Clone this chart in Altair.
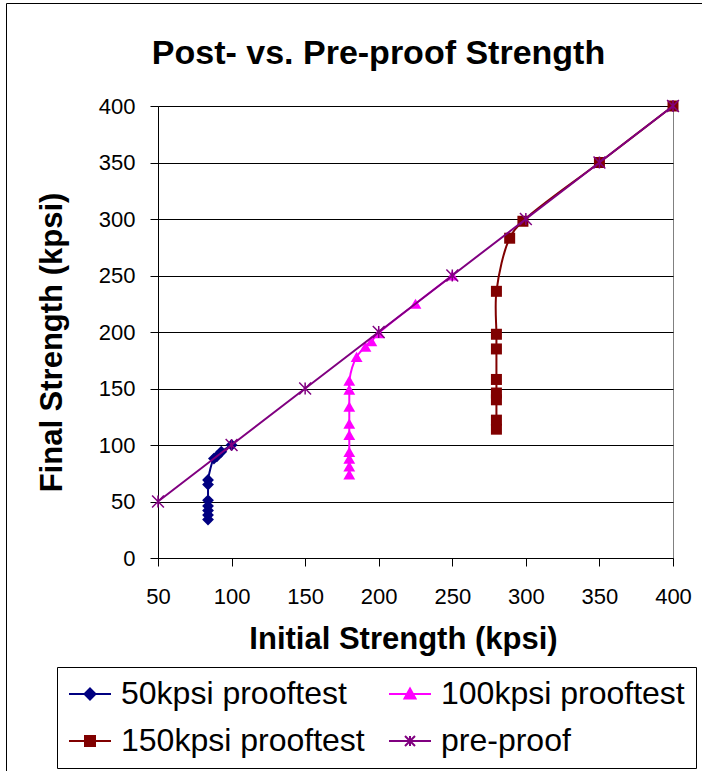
import altair as alt
import pandas as pd

series_names = ["50kpsi prooftest", "100kpsi prooftest", "150kpsi prooftest", "pre-proof"]
series_colors = ["#000080", "#FF00FF", "#800000", "#800080"]

s50_x = [84, 84, 84, 84, 84, 84, 84, 88, 90, 93, 100]
s50_y = [34, 38, 42, 46, 51, 65, 69, 88, 90, 94, 100]

s100_x = [180, 180, 180, 180, 180, 180, 180, 180, 180, 185, 191, 195, 200, 225, 250]
s100_y = [74, 81, 88, 94, 109, 119, 134, 149, 157, 178, 187, 192, 199, 225, 250]

s150_x = [280, 280, 280, 280, 280, 280, 280, 280, 289, 298, 350, 400]
s150_y = [114, 122, 140, 146, 158, 185, 198, 236, 283, 298, 350, 400]

pre_x = [50, 100, 150, 200, 250, 300, 350, 400]
pre_y = [50, 100, 150, 200, 250, 300, 350, 400]

x_ticks = [50, 100, 150, 200, 250, 300, 350, 400]
y_ticks = [0, 50, 100, 150, 200, 250, 300, 350, 400]

# legend is laid out column by column: 50 / 150 in the first column, 100 / pre-proof in the second
legend_order = ["50kpsi prooftest", "150kpsi prooftest", "100kpsi prooftest", "pre-proof"]

FONT = "Liberation Sans"
STAR = "M-1,-1L1,1M-1,1L1,-1M0,-1L0,1"

rows = []
for name, xs, ys in zip(series_names, [s50_x, s100_x, s150_x, pre_x], [s50_y, s100_y, s150_y, pre_y]):
    for i, (xv, yv) in enumerate(zip(xs, ys)):
        rows.append({"series": name, "x": xv, "y": yv, "idx": i})
df = pd.DataFrame(rows)

X = alt.X("x:Q", scale=alt.Scale(domain=[50, 400], nice=False, zero=False),
          axis=alt.Axis(values=x_ticks, title="Initial Strength (kpsi)", grid=False,
                        domainColor="black", tickColor="black", tickSize=8,
                        labelFont=FONT, labelFontSize=22, labelColor="black", labelPadding=20,
                        labelFlush=False, labelOverlap=False,
                        titleFont=FONT, titleFontSize=31, titleFontWeight="bold", titleColor="black",
                        titleX=245, titleY=66))
Y = alt.Y("y:Q", scale=alt.Scale(domain=[0, 400], nice=False),
          axis=alt.Axis(values=y_ticks, title="Final Strength (kpsi)", grid=True,
                        gridColor="black", gridWidth=1, gridOpacity=1,
                        domainColor="black", tickColor="black", tickSize=8,
                        labelFont=FONT, labelFontSize=22, labelColor="black", labelPadding=15,
                        labelFlush=False, labelOverlap=False,
                        titleFont=FONT, titleFontSize=31, titleFontWeight="bold", titleColor="black",
                        titleX=-90, titleY=236))

base = alt.Chart(df)

frame = alt.Chart(pd.DataFrame({"k": [0]})).mark_rect(
    fillOpacity=0, stroke="black", strokeWidth=1
).encode(x=alt.value(-151.5), y=alt.value(-102.5), x2=alt.value(600), y2=alt.value(700))

layers = [frame]
marker_specs = [
    ("50kpsi prooftest", "#000080", "diamond", 140, True),
    ("100kpsi prooftest", "#FF00FF", "triangle-up", 140, True),
    ("150kpsi prooftest", "#800000", "square", 121, True),
    ("pre-proof", "#800080", STAR, 140, False),
]
for name, col, shape, size, filled in marker_specs:
    sub = base.transform_filter(alt.datum.series == name)
    interp = "linear" if name == "pre-proof" else "catmull-rom"
    layers.append(sub.mark_line(color=col, strokeWidth=2, interpolate=interp).encode(
        x=X, y=Y, order="idx:Q"))
    if filled:
        layers.append(sub.mark_point(shape=shape, size=size, filled=True, color=col, opacity=1).encode(
            x=X, y=Y))
    else:
        layers.append(sub.mark_point(shape=shape, size=size, filled=False, color=col, opacity=1,
                                     strokeWidth=1.5).encode(x=X, y=Y))

legend_path = {
    "50kpsi prooftest": "M-3,0L5.4,0M1.2,-1.1L2.3,0L1.2,1.1L0.1,0Z",
    "100kpsi prooftest": "M-3,0L5.4,0M1.2,-1.1L2.3,0.9L0.1,0.9Z",
    "150kpsi prooftest": "M-3,0L5.4,0M0.2,-1L2.2,-1L2.2,1L0.2,1Z",
    "pre-proof": "M-3,0L5.4,0M0.2,-1L2.2,1M0.2,1L2.2,-1M1.2,-1L1.2,1",
}
color_of = dict(zip(series_names, series_colors))
leg_colors = [color_of[n] for n in legend_order]
leg_paths = [legend_path[n] for n in legend_order]

leg = alt.Legend(title=None, orient="none", legendX=-101, legendY=561, columns=2,
                 columnPadding=20, rowPadding=15, padding=11,
                 strokeColor="black", fillColor="white",
                 labelFont=FONT, labelFontSize=32, labelColor="black", labelLimit=500,
                 labelOffset=21, symbolSize=100, symbolStrokeWidth=2, symbolOpacity=1)

legend_layer = alt.Chart(pd.DataFrame({"series": series_names})).transform_filter(
    "false"
).mark_point(filled=True, size=100, strokeWidth=2).encode(
    fill=alt.Fill("series:N", scale=alt.Scale(domain=legend_order, range=leg_colors), legend=leg),
    stroke=alt.Stroke("series:N", scale=alt.Scale(domain=legend_order, range=leg_colors), legend=leg),
    shape=alt.Shape("series:N", scale=alt.Scale(domain=legend_order, range=leg_paths), legend=leg),
)
layers.append(legend_layer)

chart = alt.layer(*layers).properties(
    width=515, height=452,
    padding={"left": 158, "top": 106, "right": 29, "bottom": 213},
    autosize="none",
    background="white",
    title=alt.TitleParams("Post- vs. Pre-proof Strength", font=FONT, fontSize=34, fontWeight="bold",
                          color="black", anchor="middle", dx=-37, dy=124, offset=29,
                          baseline="alphabetic"),
).configure_view(stroke="#808080", strokeWidth=1)

chart.save("out.html", embed_options={"renderer": "svg", "actions": False})
